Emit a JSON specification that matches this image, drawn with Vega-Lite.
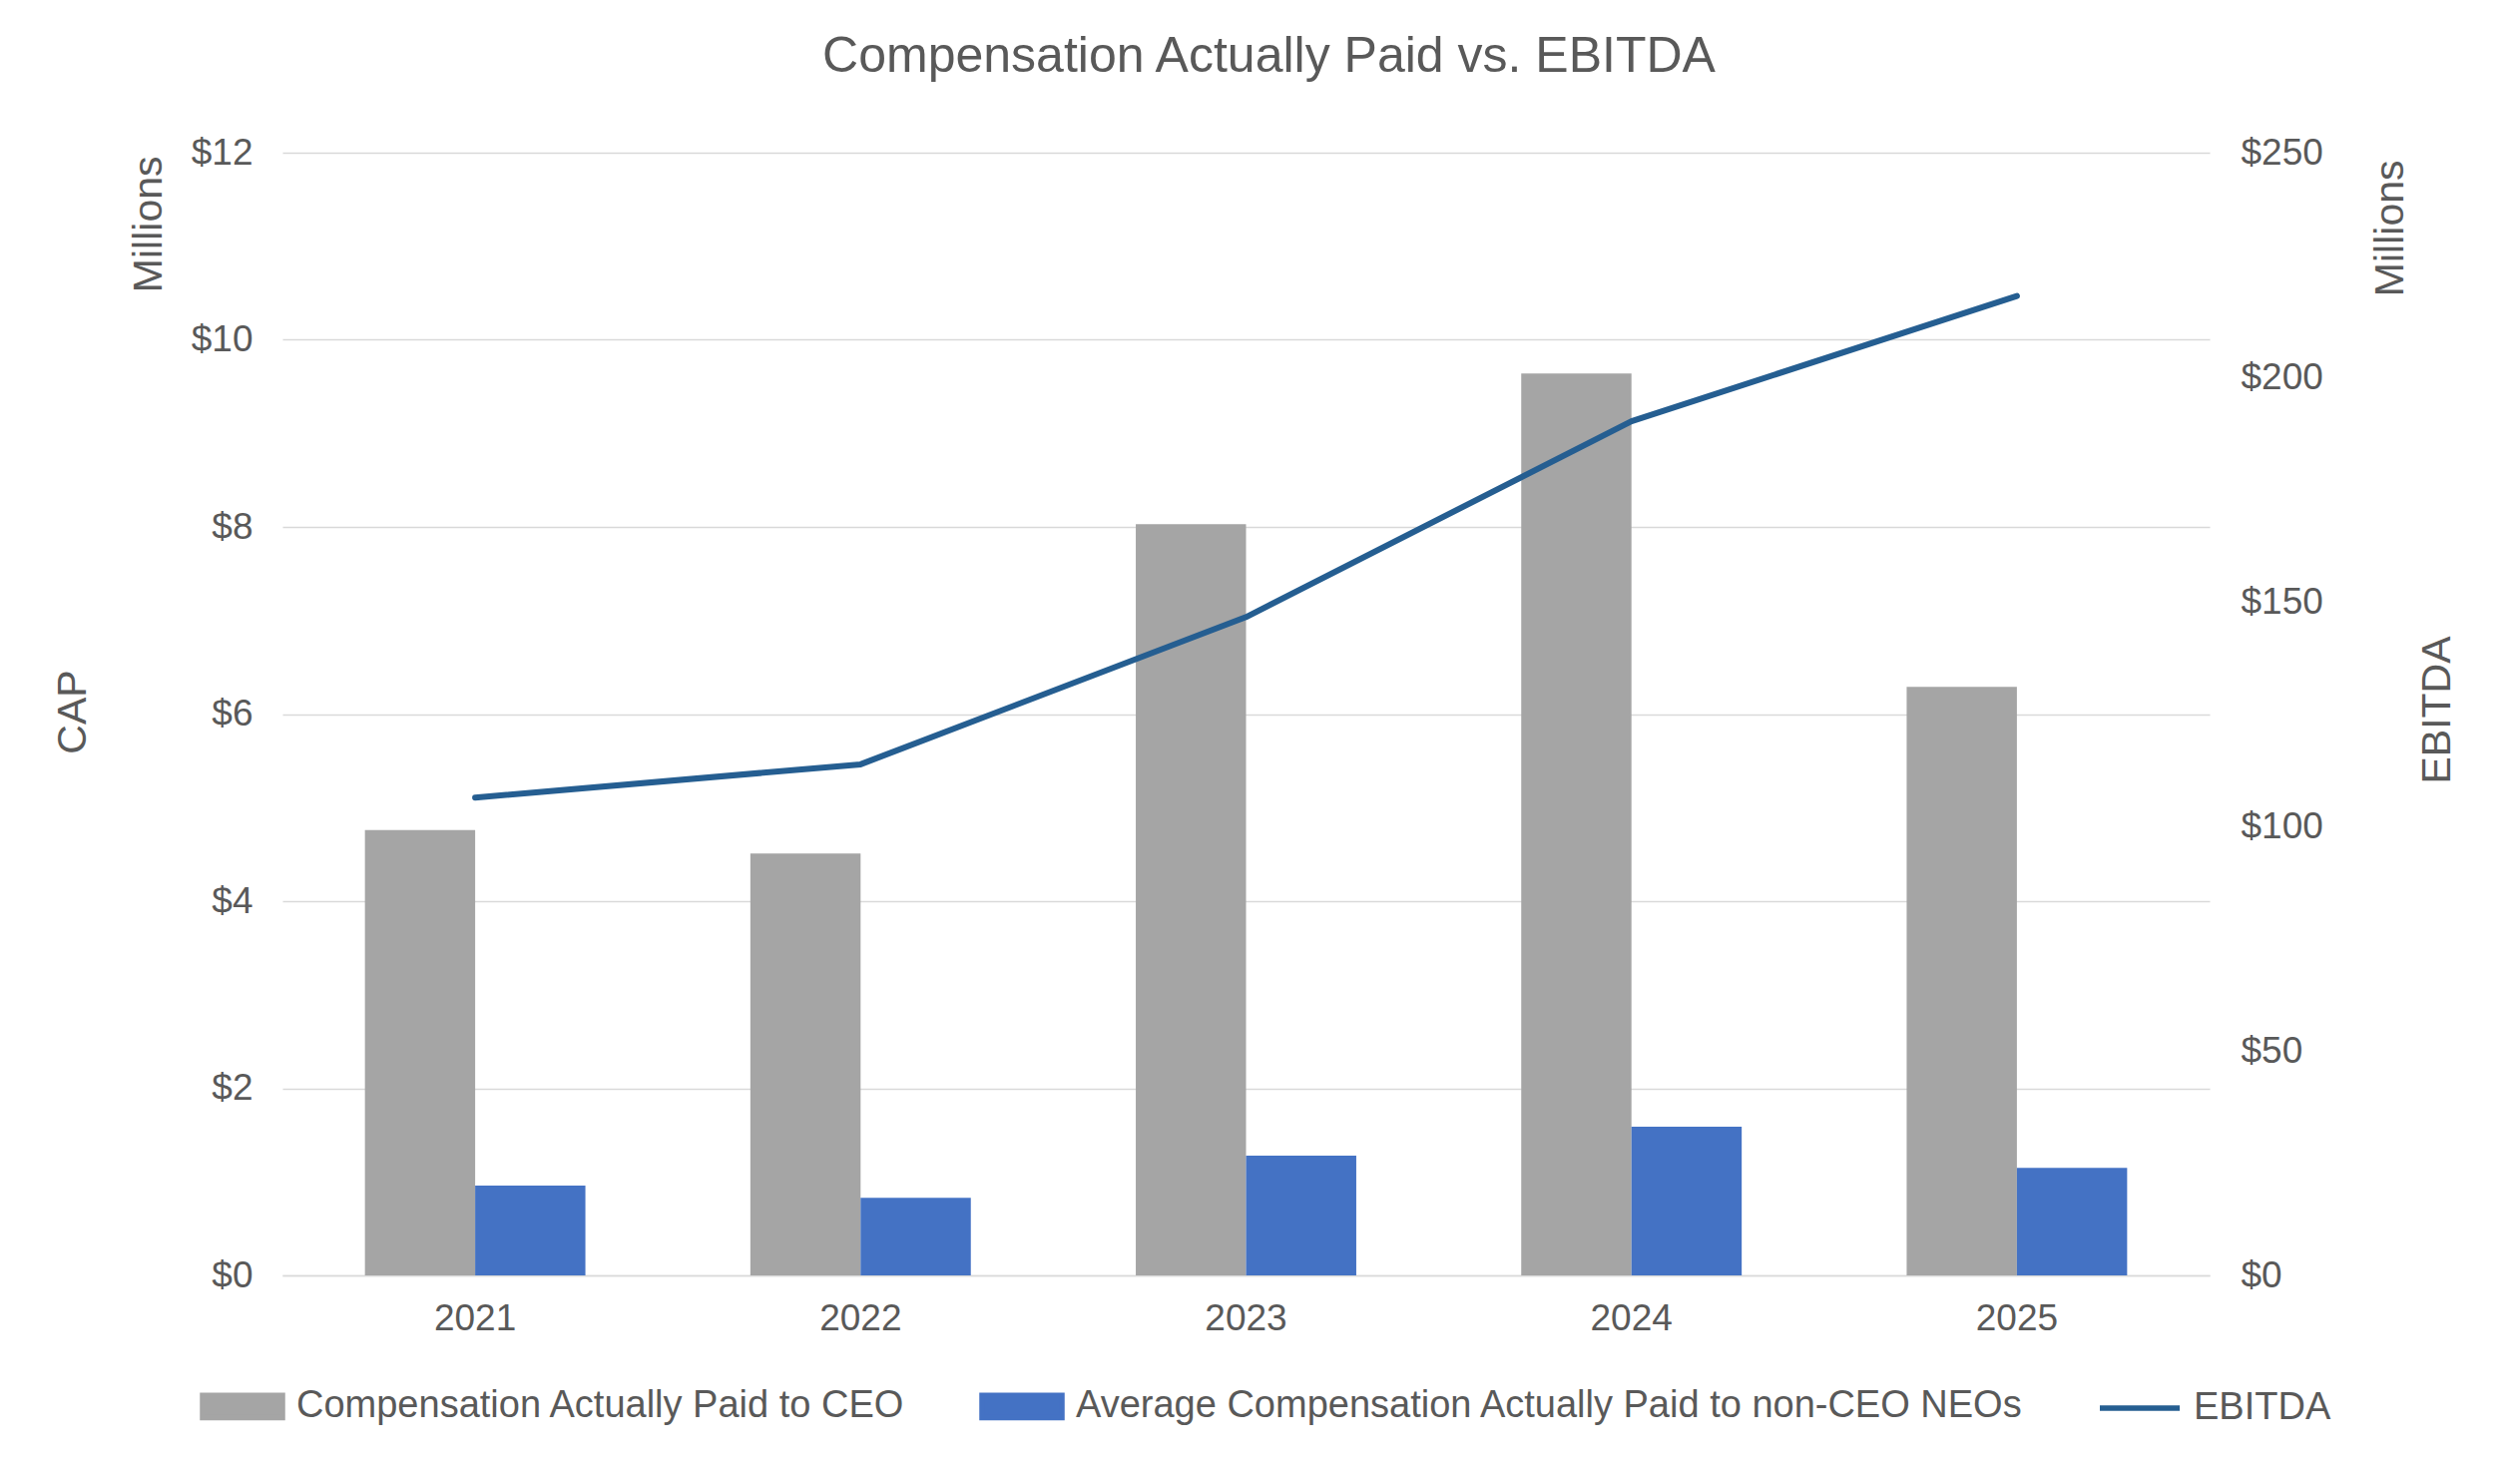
{
  "$schema": "https://vega.github.io/schema/vega-lite/v6.json",
  "width": 1931,
  "height": 1125,
  "autosize": {"type": "none"},
  "padding": {"left": 283, "top": 153, "right": 311, "bottom": 197},
  "background": "white",
  "title": {
    "text": "Compensation Actually Paid vs. EBITDA",
    "font": "Liberation Sans",
    "fontSize": 50,
    "fontWeight": "normal",
    "color": "#595959",
    "anchor": "middle",
    "frame": "group",
    "baseline": "alphabetic",
    "dx": 23,
    "offset": 12
  },
  "datasets": {
    "bars": [
      {"year": "2021", "series": "Compensation Actually Paid to CEO", "value": 4.76},
      {"year": "2022", "series": "Compensation Actually Paid to CEO", "value": 4.51},
      {"year": "2023", "series": "Compensation Actually Paid to CEO", "value": 8.03},
      {"year": "2024", "series": "Compensation Actually Paid to CEO", "value": 9.64},
      {"year": "2025", "series": "Compensation Actually Paid to CEO", "value": 6.29},
      {"year": "2021", "series": "Average Compensation Actually Paid to non-CEO NEOs", "value": 0.96},
      {"year": "2022", "series": "Average Compensation Actually Paid to non-CEO NEOs", "value": 0.83},
      {"year": "2023", "series": "Average Compensation Actually Paid to non-CEO NEOs", "value": 1.28},
      {"year": "2024", "series": "Average Compensation Actually Paid to non-CEO NEOs", "value": 1.59},
      {"year": "2025", "series": "Average Compensation Actually Paid to non-CEO NEOs", "value": 1.15}
    ],
    "line": [
      {"year": "2021", "series": "EBITDA", "value": 106.4},
      {"year": "2022", "series": "EBITDA", "value": 113.8},
      {"year": "2023", "series": "EBITDA", "value": 146.6},
      {"year": "2024", "series": "EBITDA", "value": 190.2},
      {"year": "2025", "series": "EBITDA", "value": 218.1}
    ]
  },
  "config": {
    "font": "Liberation Sans",
    "view": {"stroke": null},
    "axis": {
      "labelFont": "Liberation Sans",
      "labelFontSize": 37,
      "labelColor": "#595959",
      "titleFont": "Liberation Sans",
      "titleFontSize": 41,
      "titleColor": "#595959",
      "titleFontWeight": "normal"
    }
  },
  "layer": [
    {
      "data": {"name": "bars"},
      "mark": {"type": "bar"},
      "encoding": {
        "x": {
          "field": "year",
          "type": "ordinal",
          "scale": {"paddingInner": 0.428, "paddingOuter": 0.214},
          "axis": {
            "orient": "bottom",
            "labelAngle": 0,
            "labelPadding": 25,
            "ticks": false,
            "domain": true,
            "domainColor": "#D9D9D9",
            "domainWidth": 1.5,
            "title": "Millions",
            "titleX": -134,
            "titleY": -1122,
            "titleAngle": -90,
            "titleAlign": "right",
            "titleBaseline": "middle"
          }
        },
        "xOffset": {
          "field": "series",
          "type": "nominal",
          "sort": ["Compensation Actually Paid to CEO", "Average Compensation Actually Paid to non-CEO NEOs"],
          "scale": {"paddingInner": 0, "paddingOuter": 0}
        },
        "y": {
          "field": "value",
          "type": "quantitative",
          "scale": {"domain": [0, 12]},
          "axis": {
            "orient": "left",
            "values": [0, 2, 4, 6, 8, 10, 12],
            "format": "$,.0f",
            "grid": true,
            "gridColor": "#D9D9D9",
            "gridWidth": 1.5,
            "domain": false,
            "ticks": false,
            "labelPadding": 30,
            "title": "CAP",
            "titleX": -210,
            "titleY": 560,
            "titleAngle": -90,
            "titleAlign": "center",
            "titleBaseline": "middle"
          }
        },
        "color": {
          "field": "series",
          "type": "nominal",
          "scale": {
            "domain": ["Compensation Actually Paid to CEO", "Average Compensation Actually Paid to non-CEO NEOs", "EBITDA"],
            "range": ["#A5A5A5", "#4472C4", "#255E91"]
          },
          "legend": {
            "orient": "none",
            "legendX": -83,
            "legendY": 1213,
            "direction": "horizontal",
            "title": null,
            "labelFont": "Liberation Sans",
            "labelFontSize": 38,
            "labelColor": "#595959",
            "labelLimit": 0,
            "labelOffset": 11,
            "columnPadding": 65,
            "symbolSize": 6400,
            "symbolStrokeWidth": 5,
            "encode": {
              "symbols": {
                "update": {
                  "shape": {"signal": "datum.value === 'EBITDA' ? 'M-1,0H1' : 'M-1,-0.28H1V0.28H-1Z'"},
                  "fill": {"signal": "datum.value === 'EBITDA' ? 'transparent' : scale('color', datum.value)"},
                  "stroke": {"signal": "datum.value === 'EBITDA' ? scale('color', datum.value) : 'transparent'"},
                  "strokeWidth": {"value": 5.5},
                  "opacity": {"value": 1}
                }
              }
            }
          }
        }
      }
    },
    {
      "data": {"name": "line"},
      "mark": {"type": "line", "strokeWidth": 6, "strokeCap": "round", "strokeJoin": "round"},
      "encoding": {
        "x": {
          "field": "year",
          "type": "ordinal",
          "axis": {
            "orient": "top",
            "labels": false,
            "ticks": false,
            "domain": false,
            "grid": false,
            "title": "Millions",
            "titleX": 2112,
            "titleY": 7,
            "titleAngle": -90,
            "titleAlign": "right",
            "titleBaseline": "middle"
          }
        },
        "y": {
          "field": "value",
          "type": "quantitative",
          "scale": {"domain": [0, 250]},
          "axis": {
            "orient": "right",
            "values": [0, 50, 100, 150, 200, 250],
            "format": "$,.0f",
            "grid": false,
            "domain": false,
            "ticks": false,
            "labelPadding": 31,
            "title": "EBITDA",
            "titleX": 228,
            "titleY": 558,
            "titleAngle": -90,
            "titleAlign": "center",
            "titleBaseline": "middle"
          }
        },
        "color": {"field": "series", "type": "nominal"}
      }
    }
  ],
  "resolve": {
    "scale": {"y": "independent"},
    "axis": {"x": "independent", "y": "independent"}
  }
}
